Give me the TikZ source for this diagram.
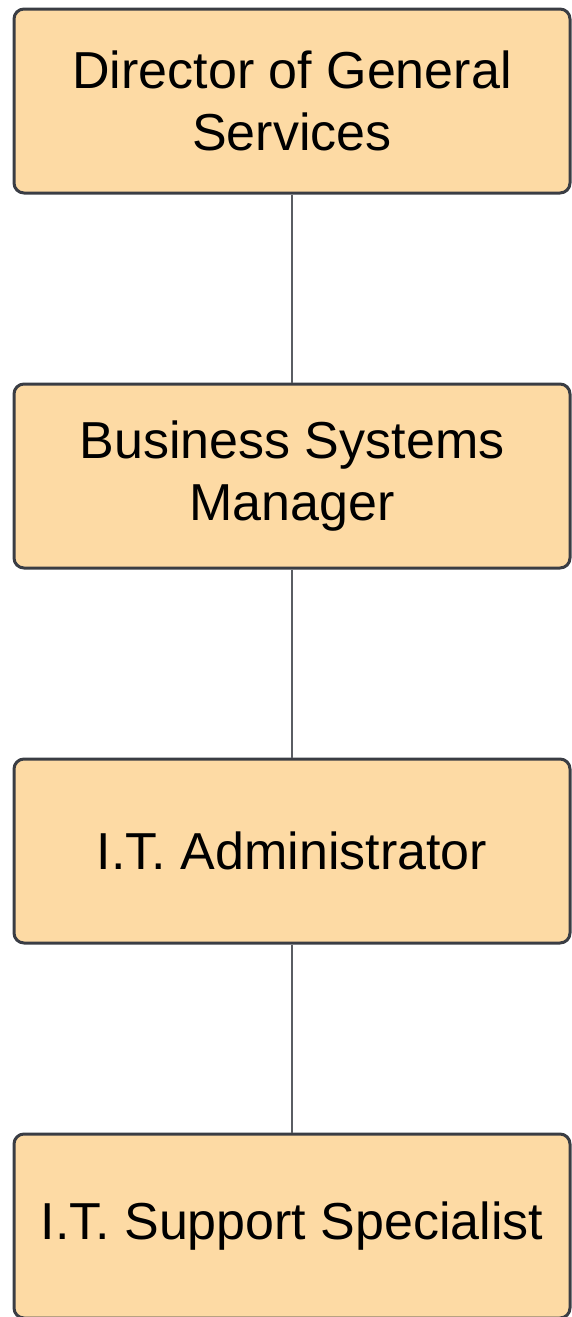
\documentclass[tikz,border=0pt]{standalone}
\usepackage{fontspec}
\setmainfont{Liberation Sans}
\usepackage{xcolor}
\usetikzlibrary{positioning}

\definecolor{boxfill}{HTML}{FDDAA4}
\definecolor{boxline}{HTML}{3A3D44}
\definecolor{linkgray}{HTML}{5A5D63}

\begin{document}
\begin{tikzpicture}[
    x=1pt, y=1pt,
    node distance=188pt,
    role/.style={rectangle, rounded corners=10pt, draw=boxline, line width=3pt,
        fill=boxfill, minimum width=556pt, minimum height=184pt, align=center,
        font=\fontsize{52}{62}\selectfont, text=black},
    link/.style={draw=linkgray, line width=2pt}
]
\useasboundingbox (0,0) rectangle (571,-1317);

% Nodes
\node[role] (director) at (292,-101) {Director of General\\Services};
\node[role] (manager) [below=of director] {Business Systems\\Manager};
\node[role] (admin) [below=of manager] {I.T. Administrator};
\node[role] (support) [below=of admin] {I.T. Support Specialist};

\draw[link] (director) -- (manager);
\draw[link] (manager) -- (admin);
\draw[link] (admin) -- (support);
\end{tikzpicture}
\end{document}
